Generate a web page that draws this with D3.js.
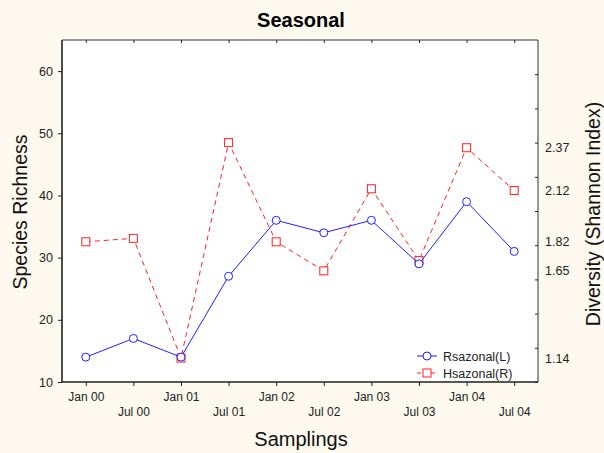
<!DOCTYPE html>
<html>
<head>
<meta charset="utf-8">
<script src="https://cdn.jsdelivr.net/npm/d3@7"></script>
<style>
  html, body { margin: 0; padding: 0; background: #fdf9ee; }
  svg { display: block; font-family: "Liberation Sans", Arial, sans-serif; }
</style>
</head>
<body>
<svg id="chart" width="604" height="453"></svg>
<script>
// Sampling dates (half-yearly)
const samplings = ["Jan 00", "Jul 00", "Jan 01", "Jul 01", "Jan 02", "Jul 02", "Jan 03", "Jul 03", "Jan 04", "Jul 04"];
// Species richness per sampling (left axis)
const richness = [14, 17, 14, 27, 36, 34, 36, 29, 39, 31];
// Shannon diversity per sampling (right axis)
const diversity = [1.82, 1.84, 1.14, 2.40, 1.82, 1.65, 2.13, 1.71, 2.37, 2.12];
// Axis tick values
const leftTicks = [10, 20, 30, 40, 50, 60];
const rightTickMarks = [1.0, 1.2, 1.4, 1.6, 1.8, 2.0, 2.2, 2.4, 2.6, 2.8];
const rightTickLabels = [1.14, 1.65, 1.82, 2.12, 2.37];
const seriesNames = ["Rsazonal(L)", "Hsazonal(R)"];

const svg = d3.select("#chart");
const m = { left: 62, right: 538, top: 40, bottom: 382 };
const font = "Liberation Sans, Arial, sans-serif";

const x = d3.scalePoint().domain(samplings).range([m.left, m.right]).padding(0.5);
const yL = d3.scaleLinear().domain([10, 65]).range([m.bottom, m.top]);
const yR = d3.scaleLinear().domain([1.0, 3.0]).range([m.bottom, m.top]);

// plot area
svg.append("rect")
  .attr("x", m.left).attr("y", m.top)
  .attr("width", m.right - m.left).attr("height", m.bottom - m.top)
  .attr("fill", "#ffffff");

// Title
svg.append("text").attr("x", 301).attr("y", 27)
  .attr("text-anchor", "middle").attr("font-size", 20).attr("font-weight", "bold")
  .attr("fill", "#000").text("Seasonal");

// Left axis
const leftAxis = svg.append("g").attr("transform", `translate(${m.left},0)`)
  .call(d3.axisLeft(yL).tickValues(leftTicks).tickSize(4).tickPadding(5).tickSizeOuter(0));
leftAxis.select(".domain").remove();
leftAxis.selectAll("text").attr("font-size", 12.5).attr("fill", "#222").style("font-family", font);
leftAxis.selectAll("line").attr("stroke", "#222");

// Bottom axis with staggered labels
const bottomAxis = svg.append("g").attr("transform", `translate(0,${m.bottom})`)
  .call(d3.axisBottom(x).tickSize(4).tickSizeOuter(0));
bottomAxis.select(".domain").remove();
bottomAxis.selectAll("line").attr("stroke", "#222");
bottomAxis.selectAll("text")
  .attr("font-size", 12).attr("fill", "#222").style("font-family", font)
  .attr("dy", null)
  .attr("y", (d, i) => i % 2 === 0 ? 19 : 34);

// Top axis: inward ticks only
const topAxis = svg.append("g").attr("transform", `translate(0,${m.top})`)
  .call(d3.axisTop(x).tickSize(-3).tickSizeOuter(0).tickFormat(""));
topAxis.select(".domain").remove();
topAxis.selectAll("line").attr("stroke", "#222");

// Right axis: inward tick marks, labels at the data levels
const rightAxis = svg.append("g").attr("transform", `translate(${m.right},0)`)
  .call(d3.axisRight(yR).tickValues(rightTickMarks).tickSize(-3).tickSizeOuter(0).tickFormat(""));
rightAxis.select(".domain").remove();
rightAxis.selectAll("line").attr("stroke", "#222");
const rightLabels = svg.append("g").attr("transform", `translate(${m.right},0)`)
  .call(d3.axisRight(yR).tickValues(rightTickLabels).tickSize(0).tickPadding(7).tickFormat(d3.format(".2f")));
rightLabels.select(".domain").remove();
rightLabels.selectAll("text").attr("font-size", 12.5).attr("fill", "#222").style("font-family", font);

// Frame
svg.append("path")
  .attr("d", `M${m.left},${m.top}H${m.right}V${m.bottom}`)
  .attr("fill", "none").attr("stroke", "#333").attr("stroke-width", 1);
svg.append("path")
  .attr("d", `M${m.left},${m.top}V${m.bottom}H${m.right}`)
  .attr("fill", "none").attr("stroke", "#222").attr("stroke-width", 1.6);

// Axis titles
svg.append("text").attr("x", 301).attr("y", 446)
  .attr("text-anchor", "middle").attr("font-size", 20).attr("fill", "#111").text("Samplings");
svg.append("text").attr("transform", "translate(27,212) rotate(-90)")
  .attr("text-anchor", "middle").attr("font-size", 19.5).attr("fill", "#111").text("Species Richness");
svg.append("text").attr("transform", "translate(600,214) rotate(-90)")
  .attr("text-anchor", "middle").attr("font-size", 19.5).attr("fill", "#111").text("Diversity (Shannon Index)");

const blue = "#1f1fff", red = "#ff2020";

// Diversity series (dashed, squares)
svg.append("path").datum(diversity)
  .attr("d", d3.line().x((d, i) => x(samplings[i])).y(d => yR(d)))
  .attr("fill", "none").attr("stroke", red).attr("stroke-width", 1).attr("stroke-dasharray", "5,4");
svg.selectAll(".sq").data(diversity).join("rect").attr("class", "sq")
  .attr("x", (d, i) => x(samplings[i]) - 4).attr("y", d => yR(d) - 4)
  .attr("width", 8).attr("height", 8)
  .attr("fill", "#fff").attr("stroke", red).attr("stroke-width", 1);

// Richness series (solid, circles)
svg.append("path").datum(richness)
  .attr("d", d3.line().x((d, i) => x(samplings[i])).y(d => yL(d)))
  .attr("fill", "none").attr("stroke", blue).attr("stroke-width", 1);
svg.selectAll(".ci").data(richness).join("circle").attr("class", "ci")
  .attr("cx", (d, i) => x(samplings[i])).attr("cy", d => yL(d)).attr("r", 4)
  .attr("fill", "#fff").attr("stroke", blue).attr("stroke-width", 1);

// Legend
const legend = svg.append("g").attr("transform", "translate(417,356)");
legend.append("line").attr("x1", 0).attr("x2", 20).attr("y1", 0).attr("y2", 0)
  .attr("stroke", blue).attr("stroke-width", 1);
legend.append("circle").attr("cx", 10).attr("cy", 0).attr("r", 4)
  .attr("fill", "#fff").attr("stroke", blue);
legend.append("text").attr("x", 26).attr("y", 4.5).attr("font-size", 12.5).attr("fill", "#222").text(seriesNames[0]);
legend.append("line").attr("x1", 0).attr("x2", 20).attr("y1", 17).attr("y2", 17)
  .attr("stroke", red).attr("stroke-width", 1).attr("stroke-dasharray", "4,3");
legend.append("rect").attr("x", 6).attr("y", 13).attr("width", 8).attr("height", 8)
  .attr("fill", "#fff").attr("stroke", red);
legend.append("text").attr("x", 26).attr("y", 21.5).attr("font-size", 12.5).attr("fill", "#222").text(seriesNames[1]);
</script>
</body>
</html>
